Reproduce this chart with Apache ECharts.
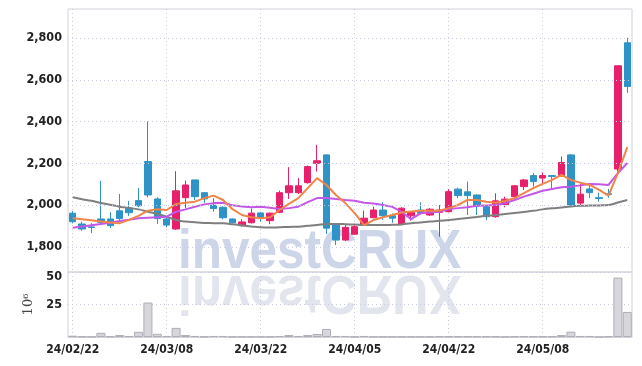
<!DOCTYPE html>
<html>
<head>
<meta charset="utf-8">
<script src="https://cdn.jsdelivr.net/npm/echarts@6/dist/echarts.min.js"></script>
<style>
html,body{margin:0;padding:0;background:#fff;}
#chart{width:642px;height:366px;}
</style>
</head>
<body>
<div id="chart"></div>
<script>
const dates = ['24/02/22','24/02/23','24/02/26','24/02/27','24/02/28','24/02/29','24/03/04','24/03/05','24/03/06','24/03/07','24/03/08','24/03/11','24/03/12','24/03/13','24/03/14','24/03/15','24/03/18','24/03/19','24/03/20','24/03/21','24/03/22','24/03/25','24/03/26','24/03/27','24/03/28','24/03/29','24/04/01','24/04/02','24/04/03','24/04/04','24/04/05','24/04/08','24/04/09','24/04/11','24/04/12','24/04/15','24/04/16','24/04/17','24/04/18','24/04/19','24/04/22','24/04/23','24/04/24','24/04/25','24/04/26','24/04/29','24/04/30','24/05/02','24/05/03','24/05/07','24/05/08','24/05/09','24/05/10','24/05/13','24/05/14','24/05/16','24/05/17','24/05/20','24/05/21','24/05/22'];

const opens  = [1962,1910,1896,1934,1934,1973,1986,2022,2209,2030,1934,1886,2036,2121,2060,2000,1990,1934,1902,1916,1963,1926,1966,2060,2060,2108,2201,2241,1910,1833,1861,1910,1940,1977,1950,1909,1949,1977,1953,1966,1969,2077,2064,2049,1993,1945,2003,2041,2089,2142,2130,2142,2142,2241,2010,2078,2036,2055,2173,2778];
const closes = [1921,1886,1893,1918,1902,1936,1964,1997,2049,1936,1905,2069,2097,2041,2030,1984,1940,1916,1920,1962,1936,1962,2060,2093,2093,2185,2213,1890,1833,1894,1897,1938,1977,1950,1938,1986,1966,1962,1981,1977,2065,2046,2046,1997,1945,2021,2029,2093,2121,2113,2142,2138,2205,2001,2053,2060,2032,2051,2668,2569];
const lows   = [1913,1878,1866,1905,1890,1929,1949,1990,2038,1910,1894,1882,1986,2025,2012,1969,1933,1912,1899,1912,1921,1909,1962,2030,2054,2103,2161,1862,1809,1828,1858,1900,1938,1929,1916,1906,1926,1955,1948,1849,1966,2034,1953,1953,1929,1940,1990,2036,2073,2089,2102,2077,2137,1999,2001,2034,2017,2036,2150,2538];
const highs  = [1972,1921,1914,2117,1966,2054,2021,2082,2401,2038,1949,2163,2118,2121,2063,2034,1995,1936,1933,1984,1968,1965,2070,2182,2130,2190,2289,2243,1912,1905,1905,1974,1993,2014,1960,1990,1970,2014,1986,2001,2077,2084,2113,2052,1995,2057,2041,2097,2126,2154,2157,2144,2233,2245,2102,2102,2060,2078,2670,2802];

const maShort = [1938,1933,1928,1922,1917,1914,1930,1949,1974,1981,1977,2006,2012,2017,2034,2046,2025,1981,1953,1942,1938,1942,1977,2006,2034,2082,2130,2097,2049,2010,1962,1905,1929,1942,1953,1965,1970,1973,1974,1974,1986,2001,2025,2025,2017,2012,2020,2034,2058,2082,2102,2121,2145,2121,2108,2097,2073,2046,2154,2278];
const maMid   = [1892,1898,1904,1910,1916,1924,1930,1938,1940,1942,1945,1969,1980,1993,2004,2010,2012,2000,1994,1990,1993,1988,1982,1986,1993,2015,2034,2034,2030,2025,2021,2012,2008,2001,1992,1968,1933,1961,1965,1969,1982,1986,1990,1997,1999,2001,2010,2025,2041,2055,2069,2078,2086,2089,2095,2102,2100,2097,2154,2202];
const maLong  = [2038,2029,2021,2011,2002,1993,1987,1980,1969,1958,1945,1929,1922,1918,1915,1914,1913,1909,1903,1898,1894,1893,1894,1896,1897,1901,1905,1910,1910,1909,1907,1905,1905,1905,1906,1908,1914,1917,1922,1925,1929,1934,1939,1944,1949,1953,1958,1963,1968,1973,1980,1985,1989,1994,1997,1998,1999,2001,2013,2025];

const volumes = [1.0,0.4,0.2,3.2,0.5,1.5,0.8,4.0,26.5,2.5,0.8,7.0,1.5,0.8,0.3,0.8,0.8,0.2,0.2,0.2,0.2,0.2,0.8,1.5,0.8,1.5,2.3,6.2,0.8,0.8,0.2,0.8,0.2,0.2,0.2,0.2,0.2,0.2,0.2,0.5,0.5,0.5,0.5,0.5,0.5,0.5,0.1,0.5,0.5,0.5,0.5,0.5,1.5,4.1,0.8,0.8,0.1,0.5,45.7,19.3];

const priceTickValues = [1800,2000,2200,2400,2600,2800];
const priceRange = [1680, 2940];
const volTickValues = [0,25,50];

const candleData = opens.map((o,i)=>[o, closes[i], lows[i], highs[i]]);

const labelFont = "'Liberation Sans Narrow','DejaVu Sans Condensed',sans-serif";
const gridLineStyle = {color:'#c9cce0', type:[1,3], width:1};

const chart = echarts.init(document.getElementById('chart'), null, {renderer:'canvas'});
chart.setOption({
  animation:false,
  backgroundColor:'#fff',
  grid:[
    {left:68, right:10, top:9, height:263, show:true, borderColor:'#d2d2da', borderWidth:1, backgroundColor:'transparent', outerBoundsMode:'none'},
    {left:68, right:10, top:272, height:65, show:true, borderColor:'#d2d2da', borderWidth:1, backgroundColor:'transparent', outerBoundsMode:'none'}
  ],
  graphic:[
    {type:'text', x:178, y:252.5, scaleX:0.9, z:-1, silent:true,
     style:{text:'investCRUX', x:0, y:0, textAlign:'left', textVerticalAlign:'middle',
            font:"bold 55px 'Liberation Sans',Arial,sans-serif", fill:'rgba(192,202,228,0.8)'}},
    {type:'text', x:178, y:291.5, scaleX:0.9, scaleY:-1, z:-1, silent:true,
     style:{text:'investCRUX', x:0, y:0, textAlign:'left', textVerticalAlign:'middle',
            font:"bold 55px 'Liberation Sans',Arial,sans-serif", fill:'rgba(218,220,232,0.75)'}}
  ],
  xAxis:[
    {type:'category', gridIndex:0, data:dates, boundaryGap:true,
     axisLine:{show:false}, axisTick:{show:false}, axisLabel:{show:false},
     splitLine:{show:true, interval:9, alignWithLabel:true, lineStyle:gridLineStyle}},
    {type:'category', gridIndex:1, data:dates, boundaryGap:true,
     axisLine:{show:true, lineStyle:{color:'#d2d2da'}}, axisTick:{show:false},
     axisLabel:{show:true, interval:9, margin:7, color:'#222', fontFamily:labelFont, fontWeight:'bold', fontSize:12},
     splitLine:{show:true, interval:9, alignWithLabel:true, lineStyle:gridLineStyle}}
  ],
  yAxis:[
    {type:'value', gridIndex:0, min:priceRange[0], max:priceRange[1],
     axisLine:{show:false}, axisTick:{show:false, customValues:priceTickValues},
     axisLabel:{customValues:priceTickValues, margin:6, color:'#222', fontFamily:labelFont, fontWeight:'bold', fontSize:12.5,
       formatter:(v)=> v.toLocaleString('en-US')},
     splitLine:{show:false}},
    {type:'value', gridIndex:1, min:volTickValues[0], max:volTickValues[2], interval:25,
     name:'10\u2076', nameLocation:'middle', nameRotate:90, nameGap:33,
     nameTextStyle:{fontFamily:"'DejaVu Serif',serif", fontSize:13, color:'#444'},
     axisLine:{show:false}, axisTick:{show:false},
     axisLabel:{showMinLabel:false, margin:6, color:'#222', fontFamily:labelFont, fontWeight:'bold', fontSize:12.5,
       formatter:(v)=> v===50 ? '{top|50}' : String(v),
       rich:{top:{padding:[10,0,0,0], color:'#222', fontFamily:labelFont, fontWeight:'bold', fontSize:12.5}}},
     splitLine:{show:true, lineStyle:gridLineStyle}}
  ],
  series:[
    {type:'line', xAxisIndex:0, yAxisIndex:0, data:[], z:0, silent:true,
     markLine:{silent:true, symbol:'none', label:{show:false}, lineStyle:gridLineStyle, emphasis:{disabled:true},
       data:priceTickValues.map(v=>({yAxis:v}))}},
    {type:'candlestick', xAxisIndex:0, yAxisIndex:0, data:candleData, barWidth:7,
     itemStyle:{color:'#e8206b', color0:'#2e93c6', borderColor:'#e8206b', borderColor0:'#2e93c6', borderWidth:1}},
    {type:'line', xAxisIndex:0, yAxisIndex:0, data:maLong, smooth:true, symbol:'none',
     lineStyle:{color:'#7f7f7f', width:2}},
    {type:'line', xAxisIndex:0, yAxisIndex:0, data:maMid, symbol:'none',
     lineStyle:{color:'#c557e8', width:2}},
    {type:'line', xAxisIndex:0, yAxisIndex:0, data:maShort, symbol:'none',
     lineStyle:{color:'#ef8548', width:2}},
    {type:'bar', xAxisIndex:1, yAxisIndex:1, data:volumes, barWidth:'96%',
     itemStyle:{color:'#d6d6dc', borderColor:'#aeaeb6', borderWidth:1}}
  ]
});
</script>
</body>
</html>
